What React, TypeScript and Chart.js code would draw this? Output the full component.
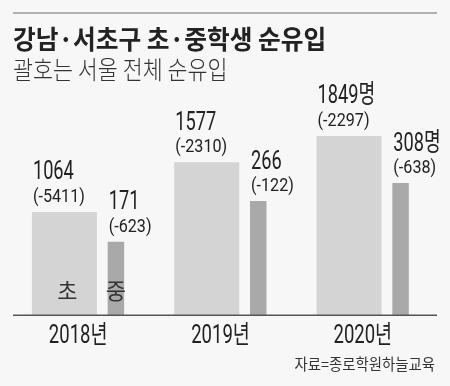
import React, { useEffect, useRef } from 'react';
import { Chart, registerables } from 'chart.js';

Chart.register(...registerables);

const categories = ['2018년', '2019년', '2020년'];
const seriesNames = ['초', '중'];
const elementary = [1064, 1577, 1849];
const middle = [171, 266, 308];
const elementarySeoul = [-5411, -2310, -2297];
const middleSeoul = [-623, -122, -638];
const valueSuffix = ['', '', '명'];

const TITLE = '강남·서초구 초·중학생 순유입';
const SUBTITLE = '괄호는 서울 전체 순유입';
const SOURCE = '자료=종로학원하늘교육';

const KR = "'Noto Sans CJK KR', sans-serif";
const NUM = "Roboto, 'Noto Sans CJK KR', sans-serif";
const BG = '#f7f7f7';
const TEXT = '#222222';

function drawText(
  ctx: CanvasRenderingContext2D,
  text: string,
  x: number,
  y: number,
  font: string,
  color: string,
  sx: number,
  align: CanvasTextAlign = 'left',
  baseline: CanvasTextBaseline = 'alphabetic'
) {
  ctx.save();
  ctx.translate(x, y);
  ctx.scale(sx, 1);
  ctx.font = font;
  ctx.fillStyle = color;
  ctx.textAlign = align;
  ctx.textBaseline = baseline;
  ctx.fillText(text, 0, 0);
  ctx.restore();
}

const decor = {
  id: 'decor',
  beforeDraw(chart: any) {
    const ctx = chart.ctx as CanvasRenderingContext2D;
    ctx.save();
    ctx.fillStyle = BG;
    ctx.fillRect(0, 0, chart.width, chart.height);
    // top rule
    ctx.strokeStyle = '#9a9a9a';
    ctx.lineWidth = 1.5;
    ctx.beginPath();
    ctx.moveTo(13, 13);
    ctx.lineTo(437, 13);
    ctx.stroke();
    ctx.restore();
    drawText(ctx, TITLE, 13, 49, `bold 26px ${KR}`, TEXT, 0.95);
    drawText(ctx, SUBTITLE, 13, 79, `300 25px ${KR}`, '#333333', 0.87);
    drawText(ctx, SOURCE, 435, 370, `16px ${KR}`, '#333333', 0.9, 'right');
  },
  afterDatasetsDraw(chart: any) {
    const ctx = chart.ctx as CanvasRenderingContext2D;
    const area = chart.chartArea;
    const xScale = chart.scales.x;
    // baseline
    ctx.save();
    ctx.strokeStyle = '#555555';
    ctx.lineWidth = 1.5;
    ctx.beginPath();
    ctx.moveTo(13, area.bottom + 0.25);
    ctx.lineTo(437, area.bottom + 0.25);
    ctx.stroke();
    ctx.restore();

    // category labels (condensed), positioned by the category scale
    xScale.ticks.forEach((_t: any, i: number) => {
      const px = xScale.getPixelForTick(i);
      drawText(ctx, String(xScale.getLabelForValue(i)), px - 12, area.bottom + 28, `25px ${NUM}`, TEXT, 0.74, 'center');
    });

    chart.data.datasets.forEach((ds: any, di: number) => {
      const meta = chart.getDatasetMeta(di);
      meta.data.forEach((bar: any, i: number) => {
        const { x, y, width } = bar.getProps(['x', 'y', 'width'], true);
        const left = x - width / 2;
        drawText(ctx, `${ds.data[i]}${valueSuffix[i]}`, left + 1, y - 32.5, `26px ${NUM}`, TEXT, 0.7);
        drawText(ctx, `(${ds.seoul[i]})`, left + 1, y - 10, `19px ${NUM}`, TEXT, 0.85);
        if (i === 0) {
          drawText(ctx, ds.label, x + (di === 0 ? 3 : 0), area.bottom - 24, `22px ${KR}`, '#333333', 1, 'center', 'middle');
        }
      });
    });
  },
};

export default function App() {
  const ref = useRef<HTMLCanvasElement>(null);
  useEffect(() => {
    const chart = new Chart(ref.current as HTMLCanvasElement, {
      type: 'bar',
      data: {
        labels: categories,
        datasets: [
          {
            label: seriesNames[0],
            data: elementary,
            seoul: elementarySeoul,
            yAxisID: 'y',
            backgroundColor: '#d4d4d4',
            borderWidth: 0,
            barPercentage: 1.262,
            categoryPercentage: 0.7237,
          } as any,
          {
            label: seriesNames[1],
            data: middle,
            seoul: middleSeoul,
            yAxisID: 'y2',
            backgroundColor: '#a9a9a9',
            borderWidth: 0,
            barPercentage: 0.32,
            categoryPercentage: 0.7237,
          } as any,
        ],
      },
      options: {
        responsive: false,
        animation: false,
        layout: { padding: { top: 102, left: 19, right: 4, bottom: 0 } },
        plugins: {
          legend: { display: false },
          tooltip: { enabled: false },
        },
        scales: {
          x: {
            offset: true,
            grid: { display: false },
            border: { display: false },
            ticks: { display: false, autoSkip: false },
            afterFit: (s: any) => {
              s.height = 71;
            },
          },
          y: { display: false, min: 0, max: 2200 },
          y2: { display: false, min: 0, max: 497, position: 'right' },
        },
      } as any,
      plugins: [decor],
    });
    return () => chart.destroy();
  }, []);
  return (
    <div style={{ position: 'fixed', left: 0, top: 0, width: 450, height: 386, background: BG }}>
      <canvas ref={ref} width={450} height={386} style={{ display: 'block' }} />
    </div>
  );
}
